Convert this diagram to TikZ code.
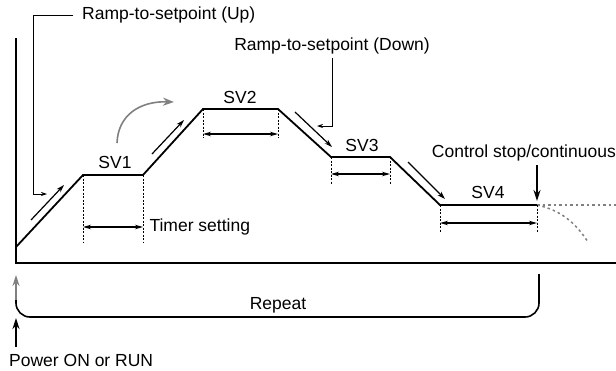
\documentclass[tikz,border=0pt]{standalone}
\usepackage{fontspec}
\setmainfont{Liberation Sans}
\usetikzlibrary{arrows.meta, calc}

\begin{document}
\begin{tikzpicture}[x=1pt, y=-1pt, font=\fontsize{17.5}{20}\selectfont,
  prof/.style={line width=1.8pt, line join=miter},
  dimline/.style={dash pattern=on 2pt off 1.5pt, line width=0.8pt},
  span/.style={{Stealth[length=8pt,width=4.5pt]}-{Stealth[length=8pt,width=4.5pt]}, line width=1.2pt},
  ramparrow/.style={-{Stealth[length=8pt,width=5pt]}, line width=1.2pt},
  leader/.style={-{Stealth[length=6pt,width=4pt]}, line width=0.8pt}]
\useasboundingbox (0,0) rectangle (616,370); % bounding box

%% Ejes
\coordinate (top) at (16,38);
\coordinate (O) at (16,263);
\coordinate (right) at (616,263);
\draw[line width=2.4pt] (top) -- (O) -- (right);

%% Puntos del perfil
\coordinate (p0) at (16,247);
\coordinate (a1) at (83,175);  \coordinate (b1) at (143,175);
\coordinate (a2) at (203,109); \coordinate (b2) at (278,109);
\coordinate (a3) at (331,157); \coordinate (b3) at (390,157);
\coordinate (a4) at (440,205); \coordinate (b4) at (537,205);
\draw[prof] (p0) -- (a1) -- (b1) -- (a2) -- (b2) -- (a3) -- (b3) -- (a4) -- (b4);

%% Continuacion punteada
\coordinate (endA) at (616,205);
\coordinate (endB) at (588,242);
\draw[gray, line width=1.5pt, dash pattern=on 2.5pt off 3pt] (b4) -- (endA);
\draw[gray, line width=1.5pt, dash pattern=on 2.5pt off 3pt] (b4) .. controls (560,210) and (575,222) .. (endB);

%% Cotas de tiempo: punto a / punto b / largo / flecha
\foreach \iA/\iB/\iL/\iF in {a1/b1/67/52, a2/b2/29/25, a3/b3/27/17, a4/b4/28/18}{
  \draw[dimline] (\iA) -- ++(0,\iL);
  \draw[dimline] (\iB) -- ++(0,\iL);
  \draw[span] ([yshift=-\iF pt]\iA) -- ([yshift=-\iF pt]\iB);
}

%% Etiquetas SV
\node (sv1) at (115,162) {SV1};
\node (sv2) at (240,97) {SV2};
\node (sv3) at (362,145) {SV3};
\node (sv4) at (488,192) {SV4};
\node[anchor=west] (timer) at (146,227) {Timer setting};

%% Flechas paralelas a las rampas
\coordinate (r1s) at (31,220);  \coordinate (r1e) at (64,185);
\coordinate (r2s) at (152,154); \coordinate (r2e) at (184,120);
\coordinate (r3s) at (295,112); \coordinate (r3e) at (332,147);
\coordinate (r4s) at (408,162); \coordinate (r4e) at (445,199);
\foreach \iA in {1,...,4}{
\draw[ramparrow] (r\iA s) -- (r\iA e);}%

%% Flecha curva gris
\coordinate (cs) at (117,143);
\coordinate (ce) at (174,102);
\draw[gray, line width=1.6pt, -{Stealth[length=11pt,width=8pt]}] (cs) .. controls (118,115) and (140,101) .. (ce);

%% Ramp-to-setpoint (Up)
\node[anchor=west, inner sep=0pt] (up) at (82,15) {Ramp-to-setpoint (Up)};
\coordinate (upA) at (33,15);
\coordinate (upB) at (33,194);
\coordinate (upC) at (47,194);
\draw[leader] ([xshift=-9pt]up.west) -- (upA) -- (upB) -- (upC);

%% Ramp-to-setpoint (Down)
\node[inner sep=0pt] (down) at (332,46) {Ramp-to-setpoint (Down)};
\coordinate (dnB) at (332,126);
\coordinate (dnC) at (317,126);
\draw[leader] ([yshift=-4pt]down.south) -- (dnB) -- (dnC);

%% Control stop/continuous
\node[anchor=east, inner sep=0pt] (stop) at (616,153) {Control stop/continuous};
\coordinate (stA) at (537,165);
\draw[line width=1.6pt, -{Stealth[length=11pt,width=7pt]}] (stA) -- ([yshift=4pt]b4);

%% Repeat
\coordinate (rpA) at (539,274);
\coordinate (rpB) at (539,317);
\coordinate (rpC) at (16,317);
\coordinate (rpD) at (16,275);
\draw[line width=1.6pt, rounded corners=14pt] (rpA) -- (rpB) -- (rpC) -- ($(rpC)+(0,-18)$);
\draw[gray, line width=1.6pt, -{Stealth[length=11pt,width=7pt]}] ($(rpC)+(0,-17)$) -- (rpD);
\node (repeat) at (278,305) {Repeat};

%% Power ON or RUN
\coordinate (pwA) at (16,347);
\coordinate (pwB) at (16,318);
\draw[line width=1.8pt, -{Stealth[length=11pt,width=7pt]}] (pwA) -- (pwB);
\node[anchor=west, inner sep=0pt] (power) at (9,360) {Power ON or RUN};
\end{tikzpicture}
\end{document}
